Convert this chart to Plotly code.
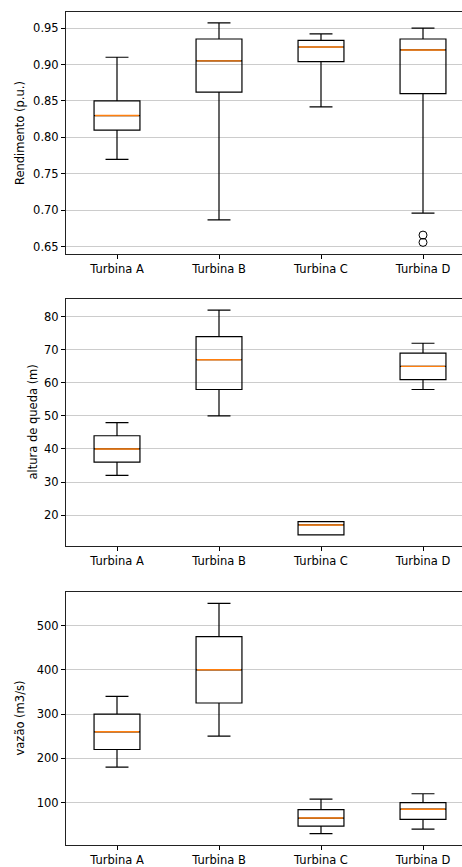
import plotly.graph_objects as go

categories = ["Turbina A", "Turbina B", "Turbina C", "Turbina D"]
positions = [1, 2, 3, 4]

# Panel 1: Rendimento (p.u.)
rend_low = [0.77, 0.687, 0.842, 0.696]
rend_q1 = [0.81, 0.862, 0.904, 0.860]
rend_med = [0.83, 0.905, 0.924, 0.920]
rend_q3 = [0.85, 0.935, 0.933, 0.935]
rend_high = [0.91, 0.957, 0.942, 0.950]
rend_out_x = [4, 4]
rend_out_y = [0.666, 0.656]

# Panel 2: altura de queda (m)
alt_low = [32, 50, 14, 58]
alt_q1 = [36, 58, 14, 61]
alt_med = [40, 67, 17, 65]
alt_q3 = [44, 74, 18, 69]
alt_high = [48, 82, 18, 72]

# Panel 3: vazão (m3/s)
vaz_low = [180, 250, 30, 40]
vaz_q1 = [220, 325, 47, 62]
vaz_med = [260, 400, 65, 85]
vaz_q3 = [300, 475, 84, 100]
vaz_high = [340, 550, 108, 120]

panels = [
    dict(low=rend_low, q1=rend_q1, med=rend_med, q3=rend_q3, high=rend_high,
         ox=rend_out_x, oy=rend_out_y, title="Rendimento (p.u.)",
         yrange=[0.6399, 0.9721], ticks=[0.65, 0.70, 0.75, 0.80, 0.85, 0.90, 0.95],
         fmt=".2f", dom=[1 - 255 / 867, 1 - 12 / 867], tx=20),
    dict(low=alt_low, q1=alt_q1, med=alt_med, q3=alt_q3, high=alt_high,
         ox=[], oy=[], title="altura de queda (m)",
         yrange=[10.6, 85.4], ticks=[20, 30, 40, 50, 60, 70, 80],
         fmt="d", dom=[1 - 548 / 867, 1 - 300 / 867], tx=33),
    dict(low=vaz_low, q1=vaz_q1, med=vaz_med, q3=vaz_q3, high=vaz_high,
         ox=[], oy=[], title="vazão (m3/s)",
         yrange=[4, 576], ticks=[100, 200, 300, 400, 500],
         fmt="d", dom=[1 - 848 / 867, 1 - 594 / 867], tx=20),
]

FONT = "DejaVu Sans"
fig = go.Figure()
annotations = []
bw = 0.45
xdom = [66 / 462, 1.0]

for i, p in enumerate(panels):
    n = i + 1
    xa = "x" if n == 1 else f"x{n}"
    ya = "y" if n == 1 else f"y{n}"
    fig.add_trace(go.Box(
        x=positions, q1=p["q1"], median=p["med"], q3=p["q3"],
        lowerfence=p["low"], upperfence=p["high"],
        width=bw, whiskerwidth=0.5, boxpoints=False,
        fillcolor="rgba(0,0,0,0)", line=dict(color="#000000", width=1.2),
        xaxis=xa, yaxis=ya, showlegend=False, hoverinfo="skip"))
    for k, x in enumerate(positions):
        fig.add_trace(go.Scatter(
            x=[x - bw / 2 + 0.01, x + bw / 2 - 0.01], y=[p["med"][k], p["med"][k]],
            mode="lines", line=dict(color="#ff7f0e", width=1.4),
            xaxis=xa, yaxis=ya, showlegend=False, hoverinfo="skip"))
    if p["ox"]:
        fig.add_trace(go.Scatter(
            x=p["ox"], y=p["oy"], mode="markers",
            marker=dict(symbol="circle-open", size=8, color="#000000", line=dict(width=1)),
            xaxis=xa, yaxis=ya, showlegend=False, hoverinfo="skip"))
    xkey = "xaxis" if n == 1 else f"xaxis{n}"
    ykey = "yaxis" if n == 1 else f"yaxis{n}"
    fig.update_layout(**{
        xkey: dict(domain=xdom, anchor=ya, range=[0.5, 4.5 - 12 / 102],
                   tickmode="array", tickvals=positions, ticktext=categories,
                   ticks="outside", ticklen=4, tickcolor="#000000", tickwidth=1,
                   showline=True, linecolor="#222222", linewidth=1, mirror=True,
                   showgrid=False, zeroline=False,
                   tickfont=dict(family=FONT, size=11.5, color="#000000")),
        ykey: dict(domain=p["dom"], anchor=xa, range=p["yrange"],
                   tickmode="array", tickvals=p["ticks"], tickformat=p["fmt"],
                   ticks="outside", ticklen=4, tickcolor="#000000", tickwidth=1,
                   showline=True, linecolor="#222222", linewidth=1, mirror=False,
                   showgrid=True, gridcolor="#cccccc", gridwidth=1, zeroline=False,
                   tickfont=dict(family=FONT, size=11.5, color="#000000")),
    })
    annotations.append(dict(
        text=p["title"], xref="paper", yref="paper",
        x=p["tx"] / 462, y=(p["dom"][0] + p["dom"][1]) / 2,
        textangle=-90, showarrow=False, xanchor="center", yanchor="middle",
        font=dict(family=FONT, size=11.5, color="#000000")))

fig.update_layout(
    width=462, height=867,
    margin=dict(l=0, r=0, t=0, b=0),
    paper_bgcolor="#ffffff", plot_bgcolor="#ffffff",
    boxmode="overlay",
    annotations=annotations,
    font=dict(family=FONT),
)

fig.write_html("out.html")
